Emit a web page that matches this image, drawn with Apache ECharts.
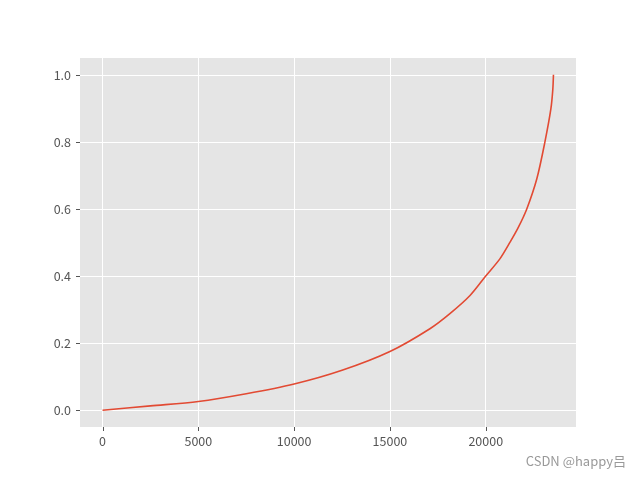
<!DOCTYPE html>
<html>
<head>
<meta charset="utf-8">
<script src="https://cdn.jsdelivr.net/npm/echarts@6/dist/echarts.min.js"></script>
<style>html,body{margin:0;padding:0;background:#fff}#c{width:640px;height:480px}</style>
</head>
<body>
<div id="c"></div>
<script>
const xValues = [0, 2500, 5000, 7500, 10000, 12500, 15000, 17087, 18130, 19180, 20000, 20748, 21270, 21700, 22143, 22667, 23090, 23400, 23500, 23535];
const yValues = [0, 0.013, 0.026, 0.049, 0.078, 0.119, 0.175, 0.243, 0.288, 0.342, 0.4, 0.452, 0.501, 0.545, 0.6, 0.69, 0.8, 0.898, 0.955, 1.0];
const xTicks = [0, 5000, 10000, 15000, 20000];
const yTicks = [0.0, 0.2, 0.4, 0.6, 0.8, 1.0];
const watermark = 'CSDN @happy吕';

const xMax = xValues[xValues.length - 1];
const pad = xMax * 0.05;
const yMin = -0.05, yMax = 1.05;
const font = '"Noto Sans CJK SC", "Noto Sans", sans-serif';
const xTickLabels = xTicks.map(v => String(v));
const yTickLabels = yTicks.map(v => v.toFixed(1));

const chart = echarts.init(document.getElementById('c'), null, {renderer: 'canvas'});
chart.setOption({
  animation: false,
  backgroundColor: '#ffffff',
  grid: {left: 80, right: 64, top: 58, bottom: 53, show: true, backgroundColor: '#e5e5e5', borderWidth: 0},
  xAxis: {
    type: 'value', min: -pad, max: xMax + pad, splitNumber: 5,
    axisLine: {show: false, onZero: false},
    axisTick: {show: false},
    axisLabel: {showMinLabel: false, showMaxLabel: false, color: '#555555', fontSize: 12.5, fontFamily: font, margin: 8,
      formatter: v => { const s = String(Math.round(v)); return xTickLabels.includes(s) ? s : ''; }},
    splitLine: {show: true, showMinLine: false, showMaxLine: false, lineStyle: {color: '#ffffff', width: 1}}
  },
  yAxis: {
    type: 'value', min: yMin, max: yMax, splitNumber: 5,
    axisLine: {show: false, onZero: false},
    axisTick: {show: false},
    axisLabel: {showMinLabel: false, showMaxLabel: false, color: '#555555', fontSize: 12.5, fontFamily: font, margin: 9,
      formatter: v => { const s = v.toFixed(1); return yTickLabels.includes(s) ? s : ''; }},
    splitLine: {show: true, showMinLine: false, showMaxLine: false, lineStyle: {color: '#ffffff', width: 1}}
  },
  series: [{
    type: 'line',
    data: xValues.map((x, i) => [x, yValues[i]]),
    showSymbol: false,
    smooth: 0.3,
    lineStyle: {color: '#E24A33', width: 1.6},
    itemStyle: {color: '#E24A33'}
  }, {
    type: 'custom', silent: true, clip: false,
    data: xTicks.map(v => [v, yMin]),
    renderItem: (params, api) => {
      const p = api.coord([api.value(0), api.value(1)]);
      const x = Math.round(p[0]) + 0.5;
      return {type: 'line', shape: {x1: x, y1: p[1], x2: x, y2: p[1] + 4}, style: {stroke: '#555555', lineWidth: 1}};
    }
  }, {
    type: 'custom', silent: true, clip: false,
    data: yTicks.map(v => [-pad, v]),
    renderItem: (params, api) => {
      const p = api.coord([api.value(0), api.value(1)]);
      const y = Math.round(p[1]) + 0.5;
      return {type: 'line', shape: {x1: p[0] - 4, y1: y, x2: p[0], y2: y}, style: {stroke: '#555555', lineWidth: 1}};
    }
  }],
  graphic: [{
    type: 'text', right: 14, top: 455,
    style: {text: watermark, fill: '#999999', font: '13px ' + font}
  }]
});
</script>
</body>
</html>
